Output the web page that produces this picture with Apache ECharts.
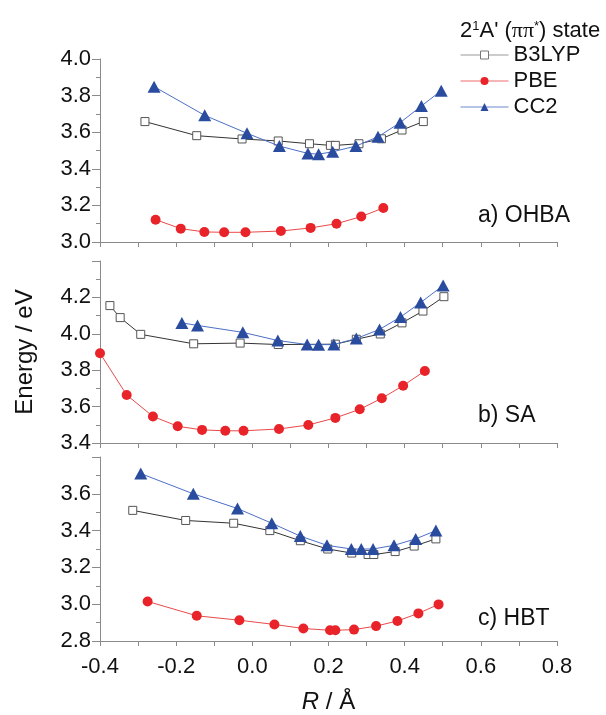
<!DOCTYPE html>
<html>
<head>
<meta charset="utf-8">
<script src="https://cdn.jsdelivr.net/npm/echarts@6/dist/echarts.min.js"></script>
<style>
  html, body { margin: 0; background: #fff; }
  #chart { width: 606px; height: 715px; }
</style>
</head>
<body>
<div id="chart"></div>
<script>
// panel a) OHBA
var aB3lypR = [-0.282, -0.146, -0.027, 0.068, 0.150, 0.205, 0.218, 0.280, 0.339, 0.393, 0.449];
var aB3lypE = [3.658, 3.581, 3.563, 3.552, 3.537, 3.528, 3.528, 3.537, 3.564, 3.612, 3.658];
var aPbeR = [-0.254, -0.188, -0.126, -0.074, -0.018, 0.075, 0.153, 0.221, 0.286, 0.344];
var aPbeE = [3.122, 3.073, 3.055, 3.053, 3.053, 3.060, 3.077, 3.100, 3.139, 3.186];
var aCc2R = [-0.258, -0.125, -0.014, 0.071, 0.146, 0.174, 0.211, 0.272, 0.330, 0.388, 0.444, 0.496];
var aCc2E = [3.849, 3.692, 3.594, 3.524, 3.484, 3.480, 3.493, 3.524, 3.575, 3.652, 3.743, 3.827];

// panel b) SA
var bB3lypR = [-0.374, -0.347, -0.293, -0.154, -0.032, 0.068, 0.218, 0.273, 0.336, 0.393, 0.448, 0.503];
var bB3lypE = [4.155, 4.089, 3.997, 3.945, 3.949, 3.941, 3.943, 3.970, 3.999, 4.060, 4.125, 4.204];
var bPbeR = [-0.400, -0.330, -0.261, -0.196, -0.132, -0.071, -0.023, 0.070, 0.147, 0.218, 0.282, 0.340, 0.396, 0.453];
var bPbeE = [3.893, 3.664, 3.546, 3.492, 3.472, 3.467, 3.467, 3.477, 3.499, 3.538, 3.585, 3.646, 3.715, 3.796];
var bCc2R = [-0.185, -0.144, -0.025, 0.067, 0.144, 0.174, 0.214, 0.273, 0.334, 0.389, 0.442, 0.501];
var bCc2E = [4.060, 4.046, 4.008, 3.963, 3.941, 3.940, 3.941, 3.974, 4.024, 4.092, 4.172, 4.265];

// panel c) HBT
var cB3lypR = [-0.314, -0.175, -0.049, 0.046, 0.126, 0.198, 0.261, 0.304, 0.319, 0.375, 0.425, 0.482];
var cB3lypE = [3.510, 3.455, 3.440, 3.400, 3.345, 3.300, 3.278, 3.270, 3.270, 3.286, 3.316, 3.355];
var cPbeR = [-0.275, -0.146, -0.034, 0.058, 0.134, 0.204, 0.218, 0.267, 0.325, 0.381, 0.436, 0.489];
var cPbeE = [3.015, 2.937, 2.913, 2.890, 2.868, 2.858, 2.858, 2.862, 2.881, 2.909, 2.950, 2.999];
var cCc2R = [-0.293, -0.155, -0.039, 0.051, 0.126, 0.196, 0.260, 0.286, 0.317, 0.372, 0.429, 0.482];
var cCc2E = [3.710, 3.600, 3.520, 3.440, 3.370, 3.320, 3.300, 3.300, 3.300, 3.320, 3.355, 3.400];

var panelNames = ['a) OHBA', 'b) SA', 'c) HBT'];
var yMins = [3.0, 3.4, 2.8];
var yMaxs = [4.0, 4.4, 3.8];

var FONT = '"Liberation Sans", Arial, sans-serif';
var AXIS_COLOR = '#8a8a8a';

function pts(r, e) {
  return r.map(function (v, i) { return [v, e[i]]; });
}

var myChart = echarts.init(document.getElementById('chart'));

var grids = [
  { left: 100, right: 49, top: 59, height: 183 },
  { left: 100, right: 49, top: 261, height: 182 },
  { left: 100, right: 49, top: 457, height: 184 }
];

var xAxes = grids.map(function (g, i) {
  return {
    type: 'value', gridIndex: i, min: -0.4, max: 0.8, interval: 0.2,
    axisLine: { onZero: false, lineStyle: { color: AXIS_COLOR, width: 1 } },
    axisTick: { show: true, length: 5, lineStyle: { color: AXIS_COLOR } },
    minorTick: { show: true, splitNumber: 2, length: 5, lineStyle: { color: AXIS_COLOR } },
    splitLine: { show: false },
    axisLabel: {
      show: i === 2, margin: 15, fontSize: 22, color: '#111', fontFamily: FONT,
      formatter: function (v) { return v.toFixed(1); }
    },
    name: i === 2 ? '{i|R} / Å' : '',
    nameLocation: 'middle', nameGap: 49,
    nameTextStyle: {
      fontSize: 24, color: '#111', fontFamily: FONT,
      rich: { i: { fontSize: 24, fontStyle: 'italic', color: '#111', fontFamily: FONT } }
    }
  };
});

var yAxes = grids.map(function (g, i) {
  return {
    type: 'value', gridIndex: i, min: yMins[i], max: yMaxs[i], interval: 0.2,
    axisLine: { show: true, onZero: false, lineStyle: { color: AXIS_COLOR, width: 1 } },
    axisTick: { show: true, length: 8, lineStyle: { color: AXIS_COLOR } },
    minorTick: { show: true, splitNumber: 2, length: 4, lineStyle: { color: AXIS_COLOR } },
    splitLine: { show: false },
    axisLabel: {
      margin: 9, fontSize: 22, color: '#111', fontFamily: FONT,
      showMaxLabel: i === 0,
      formatter: function (v) { return v.toFixed(1); }
    },
    name: i === 1 ? 'Energy / eV' : '',
    nameLocation: 'middle', nameGap: 63, nameRotate: 90,
    nameTextStyle: { fontSize: 24, color: '#111', fontFamily: FONT }
  };
});

var styles = {
  B3LYP: {
    symbol: 'rect', symbolSize: 8,
    itemStyle: { color: '#fff', borderColor: '#555', borderWidth: 1 },
    lineStyle: { color: '#333', width: 1 }
  },
  PBE: {
    symbol: 'circle', symbolSize: 10,
    itemStyle: { color: '#e8242a' },
    lineStyle: { color: '#e84a4a', width: 1 }
  },
  CC2: {
    symbol: 'triangle', symbolSize: [13, 12],
    itemStyle: { color: '#2a4c9f' },
    lineStyle: { color: '#4d6fc7', width: 1 }
  }
};

var panelData = [
  { B3LYP: pts(aB3lypR, aB3lypE), PBE: pts(aPbeR, aPbeE), CC2: pts(aCc2R, aCc2E) },
  { B3LYP: pts(bB3lypR, bB3lypE), PBE: pts(bPbeR, bPbeE), CC2: pts(bCc2R, bCc2E) },
  { B3LYP: pts(cB3lypR, cB3lypE), PBE: pts(cPbeR, cPbeE), CC2: pts(cCc2R, cCc2E) }
];

var series = [];
panelData.forEach(function (p, i) {
  ['B3LYP', 'PBE', 'CC2'].forEach(function (name) {
    var s = styles[name];
    series.push({
      type: 'line', name: name, xAxisIndex: i, yAxisIndex: i,
      data: p[name], symbol: s.symbol, symbolSize: s.symbolSize,
      showAllSymbol: true, itemStyle: s.itemStyle, lineStyle: s.lineStyle,
      emphasis: { disabled: true }, animation: false, z: name === 'B3LYP' ? 2 : 3
    });
  });
});

var titles = [{
  text: '2{sup|1}A\' ({pi|ππ}{sup|*}) state',
  left: 455, top: 15,
  textStyle: {
    fontSize: 22, fontWeight: 'normal', color: '#111', fontFamily: FONT,
    rich: {
      sup: { fontSize: 13, verticalAlign: 'top', color: '#111', fontFamily: FONT },
      pi: { fontSize: 22, color: '#111', fontFamily: '"Liberation Serif", serif' }
    }
  }
}];
var labelTops = [199, 399, 602];
panelNames.forEach(function (t, i) {
  titles.push({
    text: t, left: 473, top: labelTops[i],
    textStyle: { fontSize: 23, fontWeight: 'normal', color: '#111', fontFamily: FONT }
  });
});

var option = {
  backgroundColor: '#fff',
  animation: false,
  title: titles,
  legend: {
    data: [
      { name: 'B3LYP', itemStyle: { borderColor: '#777', borderWidth: 1 }, lineStyle: { color: '#999', width: 1 } },
      { name: 'PBE', lineStyle: { color: '#ee6a6a', width: 1 } },
      { name: 'CC2', lineStyle: { color: '#6d88cf', width: 1 } }
    ],
    orient: 'vertical', left: 455, top: 39,
    itemWidth: 48, itemHeight: 10, itemGap: 4,
    textStyle: { fontSize: 22, color: '#111', fontFamily: FONT },
    selectedMode: false
  },
  grid: grids,
  xAxis: xAxes,
  yAxis: yAxes,
  series: series
};

myChart.setOption(option);
</script>
</body>
</html>
